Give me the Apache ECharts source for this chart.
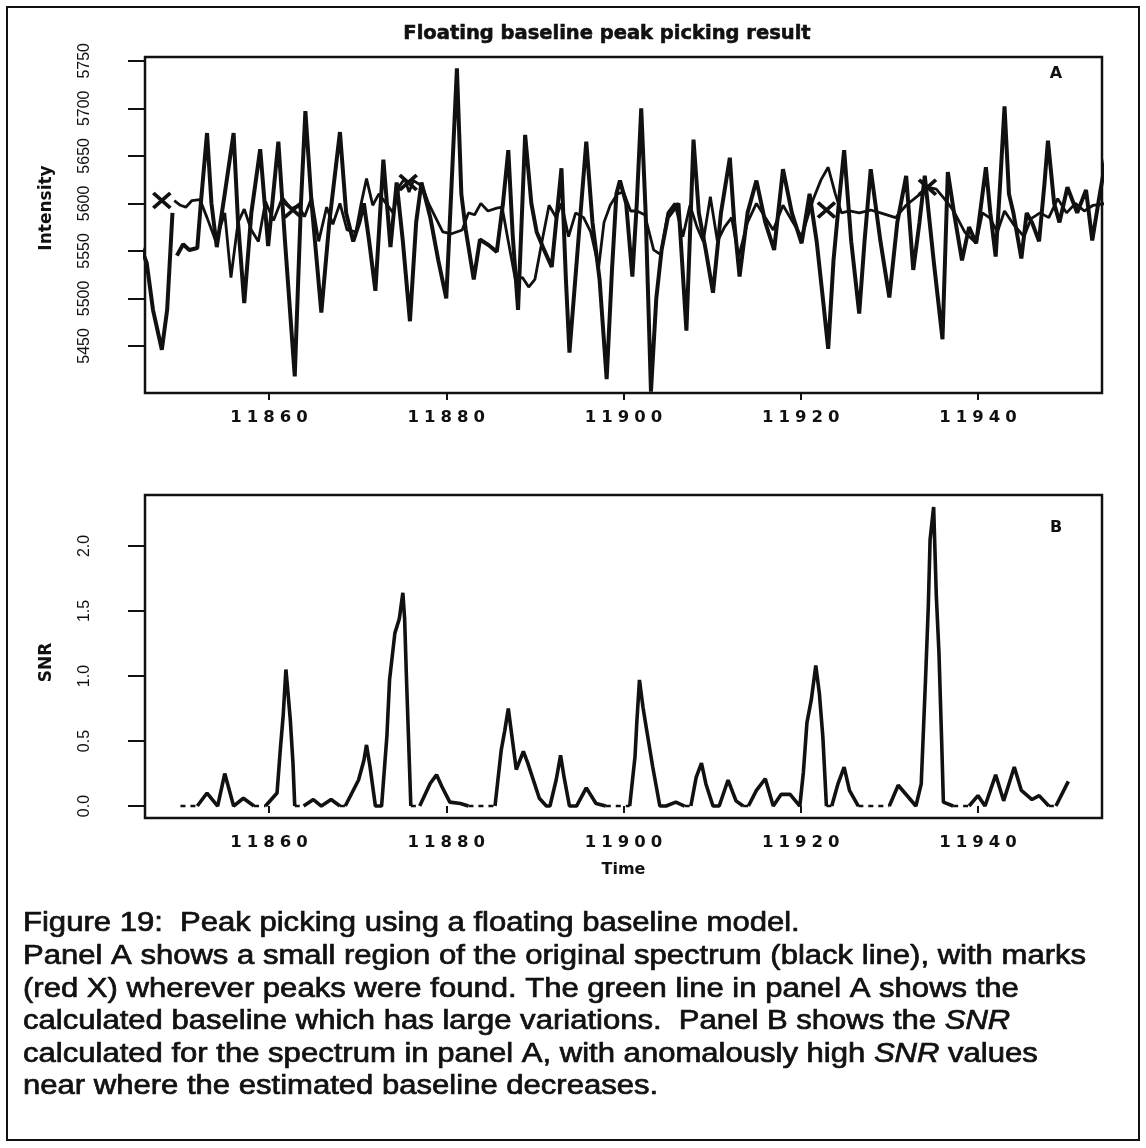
<!DOCTYPE html>
<html>
<head>
<meta charset="utf-8">
<script src="https://cdn.jsdelivr.net/npm/echarts@6/dist/echarts.min.js"></script>
<style>
  html, body { margin: 0; padding: 0; background: #ffffff; }
  #chart { width: 1146px; height: 1148px; }
</style>
</head>
<body>
<div id="chart"></div>
<script>
// ---- Panel A: raw spectrum (null = break in the trace) ----
const specTime = [
  11845.5, 11846.2, 11846.9, 11847.9, 11848.5, 11849.1, 11849.3, 11849.6, 11850.3, 11851.0,
  11851.9, 11852.3, 11853.0, 11853.5, 11854.1, 11855.0, 11856.0, 11856.5, 11857.2, 11858.0,
  11859.0, 11859.9, 11861.05, 11861.8, 11862.9, 11863.6, 11864.1, 11864.8, 11865.9, 11866.8,
  11868.0, 11868.7, 11869.5, 11870.2, 11870.7, 11871.3, 11872.0, 11872.9, 11873.7, 11874.4,
  11875.1, 11875.9, 11876.6, 11877.2, 11878.2, 11879.1, 11880.0, 11880.6, 11881.2, 11881.7,
  11882.2, 11883.1, 11883.8, 11884.8, 11885.7, 11886.4, 11887.0, 11887.5, 11888.1, 11888.5,
  11888.9, 11889.6, 11890.2, 11890.9, 11891.9, 11892.5, 11893.0, 11893.5, 11893.9, 11894.9,
  11895.8, 11896.5, 11897.3, 11898.1, 11898.7, 11899.2, 11899.6, 11900.3, 11901.0, 11901.5,
  11902.0, 11902.5, 11903.1, 11903.7, 11904.3, 11905.0, 11906.2, 11907.1, 11907.9, 11908.5,
  11909.3, 11910.1, 11911.0, 11912.0, 11912.5, 11913.1, 11914.0, 11915.0, 11916.0, 11917.0,
  11918.0, 11919.0, 11920.1, 11921.0, 11921.8, 11922.5, 11923.1, 11923.7, 11924.3, 11924.9,
  11925.7, 11926.6, 11927.2, 11927.9, 11929.0, 11930.0, 11930.9, 11931.9, 11932.7, 11933.4,
  11934.0, 11935.0, 11936.0, 11936.6, 11937.3, 11938.2, 11939.0, 11939.8, 11940.9, 11941.4,
  11942.0, 11942.5, 11943.0, 11943.5, 11944.0, 11944.9, 11945.5, 11946.1, 11946.9, 11947.5,
  11947.9, 11948.6, 11949.2, 11950.1, 11951.2, 11952.2, 11952.9, 11953.7, 11954.5
];
const specValue = [
  5555, 5537, 5488, 5446, 5488, 5590, null, 5545, 5557, 5551,
  5553, 5600, 5674, 5600, 5554, 5610, 5674, 5580, 5495, 5590,
  5657, 5555, 5665, 5560, 5418, 5600, 5697, 5600, 5485, 5580,
  5675, 5590, 5560, 5580, 5600, 5560, 5508, 5646, 5554, 5622,
  5560, 5476, 5580, 5622, 5585, 5540, 5500, 5620, 5742, 5610,
  5572, 5520, 5562, 5556, 5549, 5600, 5656, 5566, 5488, 5580,
  5672, 5600, 5570, 5554, 5533, 5590, 5637, 5520, 5443, 5560,
  5665, 5580, 5520, 5415, 5530, 5610, 5624, 5600, 5523, 5600,
  5700, 5590, 5402, 5500, 5551, 5585, 5600, 5466, 5667, 5590,
  5550, 5506, 5590, 5648, 5580, 5523, 5590, 5624, 5580, 5551,
  5636, 5590, 5558, 5610, 5560, 5500, 5447, 5540, 5600, 5656,
  5560, 5484, 5560, 5636, 5560, 5501, 5580, 5629, 5530, 5580,
  5629, 5540, 5457, 5633, 5590, 5540, 5575, 5558, 5638, 5590,
  5544, 5620, 5702, 5610, 5590, 5542, 5590, 5580, 5560, 5620,
  5666, 5600, 5580, 5617, 5590, 5614, 5561, 5607, 5650
];

// ---- Panel A: floating baseline estimate ----
const baseTime = [
  11849.3, 11850.0, 11850.6, 11851.3, 11852.2, 11853.0, 11854.0, 11855.0, 11855.7, 11856.5,
  11857.2, 11858.0, 11858.8, 11859.6, 11860.5, 11861.5, 11862.5, 11863.3, 11864.0, 11864.8,
  11865.6, 11866.5, 11867.2, 11868.0, 11868.8, 11869.8, 11870.4, 11871.0, 11871.7, 11872.4,
  11873.2, 11874.0, 11874.7, 11875.3, 11875.8, 11876.3, 11877.3, 11878.0, 11878.8, 11879.6,
  11880.6, 11881.8, 11882.5, 11883.2, 11883.9, 11884.7, 11885.7, 11886.3, 11887.0, 11887.8,
  11888.6, 11889.3, 11890.0, 11890.8, 11891.6, 11892.4, 11893.0, 11893.8, 11894.6, 11895.5,
  11896.3, 11897.2, 11897.8, 11898.5, 11899.3, 11900.0, 11900.8, 11901.5, 11902.4, 11903.4,
  11904.2, 11905.0, 11905.8, 11906.7, 11907.5, 11908.3, 11909.0, 11909.8, 11910.6, 11911.4,
  11912.2, 11913.0, 11914.0, 11915.0, 11916.0, 11916.9, 11918.0, 11919.0, 11920.1, 11921.4,
  11922.3, 11923.1, 11923.9, 11924.6, 11925.5, 11926.6, 11927.9, 11929.0, 11930.7, 11931.9,
  11933.5, 11934.3, 11935.3, 11936.2, 11937.2, 11938.5, 11939.8, 11940.5, 11941.3, 11942.2,
  11943.0, 11944.0, 11945.2, 11946.0, 11947.0, 11948.0, 11949.0, 11950.0, 11951.0, 11952.0,
  11953.0, 11954.5
];
const baseValue = [
  5603, 5598, 5596, 5603, 5604, 5585, 5560, 5590, 5522, 5580,
  5594, 5572, 5560, 5602, 5582, 5606, 5594, 5598, 5586, 5606,
  5560, 5596, 5578, 5600, 5572, 5570, 5600, 5626, 5598, 5610,
  5600, 5590, 5618, 5626, 5612, 5624, 5618, 5600, 5585, 5570,
  5568, 5572, 5590, 5588, 5600, 5592, 5595, 5596, 5560, 5520,
  5522, 5512, 5520, 5560, 5598, 5585, 5600, 5565, 5590, 5585,
  5570, 5533, 5580, 5598, 5610, 5612, 5592, 5592, 5588, 5551,
  5546, 5590, 5600, 5565, 5598, 5575, 5560, 5607, 5560, 5575,
  5585, 5544, 5580, 5600, 5585, 5572, 5598, 5582, 5565, 5604,
  5625, 5638, 5610, 5590, 5592, 5590, 5593, 5590, 5585, 5598,
  5610, 5617, 5615, 5605, 5593, 5570, 5558, 5590, 5585, 5570,
  5592, 5578, 5565, 5584, 5590, 5585, 5605, 5590, 5600, 5592,
  5598, 5600
];

// ---- Panel A: picked peaks (X marks) ----
const peakTime = [11847.9, 11862.7, 11875.7, 11922.9, 11934.3];
const peakValue = [5603, 5593, 5622, 5593, 5617];

// ---- Panel B: signal-to-noise ratio (null = break in the trace) ----
const snrTime = [
  11851.9, 11853.0, 11854.2, 11855.0, 11856.0, 11857.1, 11858.3, 11858.9,
  11859.6, 11860.9, 11861.3, 11861.6, 11861.9, 11862.1, 11862.4, 11862.7, 11862.9, 11863.4,
  11863.9, 11865.0, 11865.9, 11867.0, 11868.0, 11868.3,
  11868.6, 11870.1, 11870.7, 11871.0, 11871.4, 11872.0, 11872.7, 11873.3, 11873.6, 11874.2,
  11874.7, 11875.1, 11875.3, 11875.5, 11875.7, 11876.0, 11876.5,
  11877.0, 11878.2, 11878.9, 11879.5, 11880.4, 11881.6, 11882.5, 11884.0,
  11885.5, 11886.2, 11886.6, 11887.0, 11887.4, 11887.9, 11888.7, 11889.2, 11890.5, 11891.3,
  11891.7, 11892.4, 11892.9, 11893.3, 11893.9, 11894.7, 11895.8, 11896.9, 11898.0, 11899.3,
  11900.7, 11901.3, 11901.5, 11901.8, 11902.2, 11902.6, 11903.3, 11904.1, 11904.8, 11905.9,
  11906.9, 11907.2,
  11907.6, 11908.2, 11908.8, 11909.3, 11910.1, 11910.8, 11911.8, 11912.7, 11913.5, 11913.8,
  11914.1, 11915.0, 11916.0, 11916.9, 11917.8, 11918.8, 11919.9, 11920.3, 11920.7, 11921.2,
  11921.7, 11922.1, 11922.5, 11922.9, 11923.2,
  11923.5, 11924.2, 11924.9, 11925.5, 11926.5, 11928.0,
  11930.0, 11931.0, 11933.0, 11933.6, 11934.1, 11934.4, 11934.6, 11935.0, 11935.3, 11935.6,
  11935.9, 11936.1, 11937.2, 11938.0,
  11939.0, 11940.0, 11940.8, 11942.0, 11942.9, 11944.1, 11944.9, 11946.1, 11946.9, 11948.0,
  11948.4,
  11948.8, 11950.2
];
const snrValue = [
  0, 0.10, 0, 0.25, 0, 0.06, 0, null,
  0, 0.10, 0.46, 0.70, 1.05, 0.90, 0.66, 0.33, 0, null,
  0, 0.05, 0, 0.05, 0, null,
  0, 0.20, 0.35, 0.47, 0.30, 0, 0, 0.54, 0.97, 1.33,
  1.44, 1.64, 1.44, 1.00, 0.60, 0, null,
  0, 0.175, 0.24, 0.15, 0.03, 0.02, 0, null,
  0, 0.43, 0.58, 0.75, 0.54, 0.28, 0.42, 0.33, 0.06, 0,
  0, 0.20, 0.39, 0.22, 0, 0, 0.14, 0.02, 0, null,
  0, 0.38, 0.64, 0.97, 0.76, 0.59, 0.30, 0, 0, 0.03,
  0, null,
  0, 0.22, 0.33, 0.17, 0, 0, 0.20, 0.04, 0, null,
  0, 0.12, 0.21, 0, 0.09, 0.09, 0, 0.26, 0.64, 0.82,
  1.08, 0.87, 0.53, 0, null,
  0, 0.17, 0.30, 0.12, 0, null,
  0, 0.16, 0, 0.17, 1.00, 1.54, 2.05, 2.30, 1.62, 1.18,
  0.51, 0.03, 0, null,
  0, 0.08, 0, 0.24, 0.04, 0.30, 0.12, 0.05, 0.08, 0,
  null,
  0, 0.19
];

// stretches where the SNR sits at zero (drawn dotted)
const zeroRunStart = [11850.0, 11858.3, 11862.9, 11868.0, 11876.0, 11882.5, 11898.0, 11906.9, 11913.5, 11922.9, 11926.5, 11937.2, 11948.0];
const zeroRunEnd   = [11851.9, 11859.6, 11863.9, 11868.6, 11877.0, 11885.5, 11900.7, 11907.6, 11914.1, 11923.5, 11930.0, 11939.0, 11948.8];

// ---- axis ticks ----
const timeTicks = [11860, 11880, 11900, 11920, 11940];
const intensityTicks = [5450, 5500, 5550, 5600, 5650, 5700, 5750];
const snrTicks = [0, 0.5, 1.0, 1.5, 2.0];

// ---- text ----
const mainTitle = 'Floating baseline peak picking result';
const captionLines = [
  'Figure 19:  Peak picking using a floating baseline model.',
  'Panel A shows a small region of the original spectrum (black line), with marks',
  '(red X) wherever peaks were found. The green line in panel A shows the',
  'calculated baseline which has large variations.  Panel B shows the {i|SNR}',
  'calculated for the spectrum in panel A, with anomalously high {i|SNR} values',
  'near where the estimated baseline decreases.'
];

// ---- build series data ----
const pairs = (ts, vs) => ts.map((t, i) => [t, vs[i] == null ? '-' : vs[i]]);
const zeroRuns = [];
zeroRunStart.forEach((s, i) => {
  zeroRuns.push([s, 0], [zeroRunEnd[i], 0], [zeroRunEnd[i], '-']);
});

const INK = '#111111';
const boldFont = 'DejaVu Sans';
const plainFont = 'Liberation Sans';

// wide, evenly spaced digits for the time tick labels
const spacedDigits = v => String(v).split('').map(c => '{d|' + c + '}').join('');

function timeAxis(gridIndex, withName) {
  return {
    type: 'value', gridIndex, min: 11846, max: 11954,
    axisLine: { show: false },
    splitLine: { show: false },
    axisTick: { show: true, inside: false, length: 7, customValues: timeTicks,
      lineStyle: { color: INK, width: 2 } },
    axisLabel: { show: true, customValues: timeTicks, margin: 16,
      formatter: spacedDigits,
      rich: { d: { width: 16.5, align: 'center', fontFamily: boldFont, fontWeight: 'bold',
        fontSize: 16.5, color: INK } } },
    name: withName ? 'Time' : '', nameLocation: 'middle', nameGap: 44,
    nameTextStyle: { fontFamily: boldFont, fontWeight: 'bold', fontSize: 16, color: INK }
  };
}

function valueAxis(gridIndex, min, max, ticks, name, fmt, namePad) {
  return {
    type: 'value', gridIndex, min, max,
    axisLine: { show: false },
    splitLine: { show: false },
    axisTick: { show: true, inside: false, length: 17, customValues: ticks,
      lineStyle: { color: INK, width: 2 } },
    axisLabel: { show: true, customValues: ticks, rotate: 90, margin: 52,
      fontFamily: plainFont, fontSize: 16, color: INK, formatter: fmt },
    name, nameLocation: 'middle', nameGap: 90,
    nameTextStyle: { fontFamily: boldFont, fontWeight: 'bold', fontSize: 17, color: INK,
      padding: namePad }
  };
}

const chart = echarts.init(document.getElementById('chart'), null, { renderer: 'canvas' });

const captionGraphics = captionLines.map((line, i) => ({
  type: 'text', x: 23, y: 924 + i * 32.6, scaleX: 1.15,
  style: {
    text: line, fill: '#111', fontFamily: plainFont, fontSize: 27,
    stroke: '#111', lineWidth: 0.7,
    verticalAlign: 'middle', align: 'left',
    rich: { i: { fontStyle: 'italic', fontFamily: plainFont, fontSize: 27, fill: '#111',
      stroke: '#111', lineWidth: 0.7 } }
  }
}));

chart.setOption({
  animation: false,
  backgroundColor: '#ffffff',
  grid: [
    { left: 145, top: 57, width: 957, height: 336, show: true, borderColor: INK, borderWidth: 2.5, backgroundColor: 'transparent' },
    { left: 145, top: 495, width: 957, height: 323, show: true, borderColor: INK, borderWidth: 2.5, backgroundColor: 'transparent' }
  ],
  xAxis: [timeAxis(0, false), timeAxis(1, true)],
  yAxis: [
    valueAxis(0, 5400.5, 5754, intensityTicks, 'Intensity', v => String(v), [0, 0, 0, 34]),
    valueAxis(1, -0.092, 2.392, snrTicks, 'SNR', v => v.toFixed(1), [0, 12, 0, 0])
  ],
  series: [
    { name: 'baseline', type: 'line', xAxisIndex: 0, yAxisIndex: 0, data: pairs(baseTime, baseValue),
      showSymbol: false, connectNulls: false, z: 2,
      lineStyle: { color: INK, width: 2.8 } },
    { name: 'spectrum', type: 'line', xAxisIndex: 0, yAxisIndex: 0, data: pairs(specTime, specValue),
      showSymbol: false, connectNulls: false, z: 3,
      lineStyle: { color: INK, width: 4 } },
    { name: 'peaks', type: 'scatter', xAxisIndex: 0, yAxisIndex: 0, data: pairs(peakTime, peakValue),
      symbol: 'path://M0,0 L10,10 M10,0 L0,10', symbolSize: [17, 15], z: 4,
      itemStyle: { color: 'rgba(0,0,0,0)', borderColor: INK, borderWidth: 3.6, opacity: 1 } },
    { name: 'SNR', type: 'line', xAxisIndex: 1, yAxisIndex: 1, data: pairs(snrTime, snrValue),
      showSymbol: false, connectNulls: false, z: 3,
      lineStyle: { color: INK, width: 3.6 } },
    { name: 'SNR zero', type: 'line', xAxisIndex: 1, yAxisIndex: 1, data: zeroRuns,
      showSymbol: false, connectNulls: false, z: 2,
      lineStyle: { color: INK, width: 2.6, type: [5, 5] } }
  ],
  graphic: [
    { type: 'rect', shape: { x: 7, y: 7, width: 1132, height: 1133 },
      style: { fill: 'none', stroke: INK, lineWidth: 2 }, z: 0 },
    { type: 'text', x: 607, y: 34,
      style: { text: mainTitle, fill: INK, fontFamily: boldFont, fontWeight: 'bold', fontSize: 19.5,
        stroke: INK, lineWidth: 0.6, align: 'center', verticalAlign: 'middle' } },
    { type: 'text', x: 1056, y: 74,
      style: { text: 'A', fill: INK, fontFamily: boldFont, fontWeight: 'bold', fontSize: 16,
        align: 'center', verticalAlign: 'middle' } },
    { type: 'text', x: 1056, y: 528,
      style: { text: 'B', fill: INK, fontFamily: boldFont, fontWeight: 'bold', fontSize: 16,
        align: 'center', verticalAlign: 'middle' } }
  ].concat(captionGraphics)
});
</script>
</body>
</html>
